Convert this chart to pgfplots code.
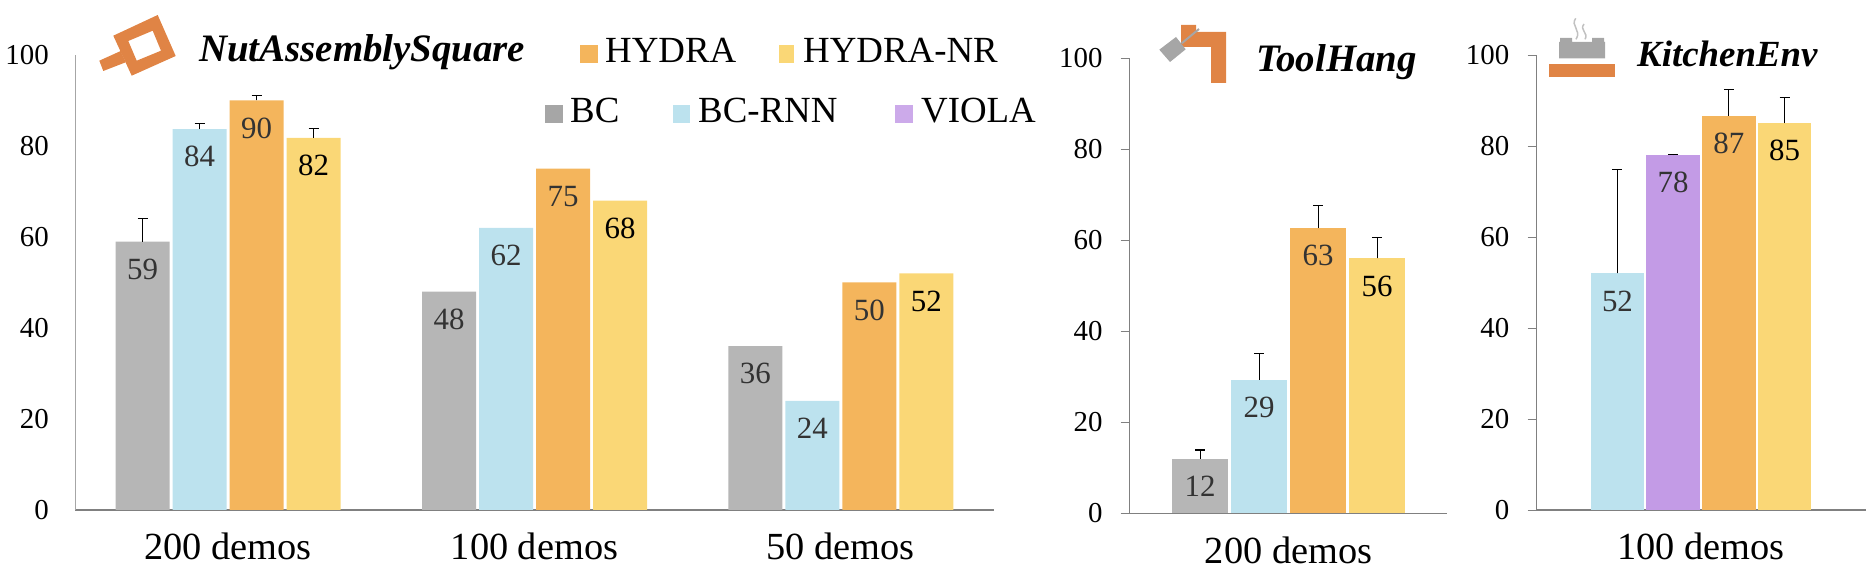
\documentclass[border=0pt]{standalone}
\usepackage{fontspec}
\setmainfont{Liberation Serif}
\usepackage{pgfplots}
\pgfplotsset{compat=1.18}

\definecolor{cBC}{HTML}{B6B6B6}
\definecolor{cRNN}{HTML}{BCE2EE}
\definecolor{cHYD}{HTML}{F4B55C}
\definecolor{cNR}{HTML}{FAD776}
\definecolor{cVIO}{HTML}{C39BE6}
\definecolor{cIcon}{HTML}{E08445}
\definecolor{cIconGray}{HTML}{A6A6A6}
\definecolor{cAxis}{HTML}{808080}

\newcommand{\fnt}[1]{\fontsize{#1}{#1}\selectfont}

\pgfplotsset{
  panel/.style={
    scale only axis,
    anchor=south west,
    height=455bp,
    ymin=0, ymax=100,
    ytick={0,20,40,60,80,100},
    clip=false,
    axis lines*=left,
    x axis line style={draw=cAxis, line width=1.5bp},
    y axis line style={draw=cAxis, line width=0.8bp},
    xtick=data,
    tick align=outside,
    major x tick style={draw=none},
    major y tick style={draw=cAxis, line width=0.8bp},
    /pgf/number format/assume math mode=true,
    yticklabel style={font=\fnt{29}, inner sep=0pt, text=black},
    xticklabel style={font=\fnt{38.5}, inner sep=0pt, anchor=base},
    nodes near coords,
    nodes near coords style={/pgf/number format/fixed, /pgf/number format/precision=0},
    every node near coord/.append style={font=\fnt{31}, anchor=north, yshift=-17bp, inner sep=0pt, text=black!80},
    error bars/y dir=plus,
    error bars/y explicit,
    error bars/error bar style={black, line width=1.1bp},
    error bars/error mark options={rotate=90, mark size=5bp, black, line width=1.1bp},
  },
  bc/.style={fill=cBC, draw=none},
  rnn/.style={fill=cRNN, draw=none},
  hyd/.style={fill=cHYD, draw=none},
  nr/.style={fill=cNR, draw=none, every node near coord/.append style={text=black}},
  vio/.style={fill=cVIO, draw=none},
}

\begin{document}
\begin{tikzpicture}[x=1bp, y=1bp]
\useasboundingbox (0,0) rectangle (1872,572);

% NutAssemblySquare
\begin{axis}[panel,
  at={(75bp,62bp)}, width=919bp,
  xmin=-0.5, xmax=2.5,
  xticklabels={200 demos,100 demos,50 demos},
  xticklabel style={yshift=-50bp},
  major y tick style={draw=none},
  major tick length=0pt,
  y axis line style={draw=cAxis!70, line width=0.8bp},
  yticklabel style={xshift=-26bp},
  ybar=3bp, bar width=54bp,
]
\addplot+[bc] coordinates {(0,59) +- (0,5) (1,48) (2,36)};
\addplot+[rnn] coordinates {(0,83.7) +- (0,1.3) (1,62) (2,24)};
\addplot+[hyd] coordinates {(0,90) +- (0,1) (1,75) (2,50)};
\addplot+[nr] coordinates {(0,81.8) +- (0,2.1) (1,68) (2,52)};
\end{axis}

% ToolHang
\begin{axis}[panel,
  at={(1129.7bp,58.7bp)}, width=317.7bp,
  xmin=-0.5, xmax=0.5,
  xticklabels={200 demos},
  xticklabel style={yshift=-41bp},
  major tick length=9bp,
  yticklabel style={xshift=-18bp},
  ybar=3bp, bar width=56bp,
]
\addplot+[bc] coordinates {(0,12) +- (0,1.9)};
\addplot+[rnn] coordinates {(0,29.3) +- (0,5.9)};
\addplot+[hyd] coordinates {(0,62.7) +- (0,5)};
\addplot+[nr] coordinates {(0,56) +- (0,4.6)};
\end{axis}

% KitchenEnv
\begin{axis}[panel,
  at={(1536.5bp,62bp)}, width=329bp,
  xmin=-0.5, xmax=0.5,
  xticklabels={100 demos},
  xticklabel style={yshift=-41bp},
  major tick length=9bp,
  yticklabel style={xshift=-18bp},
  ybar=2.2bp, bar width=53.5bp,
]
\addplot+[rnn] coordinates {(0,52) +- (0,22.8)};
\addplot+[vio] coordinates {(0,78) +- (0,0.2)};
\addplot+[hyd] coordinates {(0,86.7) +- (0,5.7)};
\addplot+[nr] coordinates {(0,85) +- (0,5.7)};
\end{axis}

% titles, legend and icons, in image pixels (y down)
\begin{scope}[shift={(0,572)}, y=-1bp]
\node[anchor=base west, inner sep=0pt, font=\fnt{39}\bfseries\itshape] at (199,62) {NutAssemblySquare};
\node[anchor=base west, inner sep=0pt, font=\fnt{39}\bfseries\itshape] at (1256,72) {ToolHang};
\node[anchor=base west, inner sep=0pt, font=\fnt{37}\bfseries\itshape] at (1637,67) {KitchenEnv};

\fill[cHYD] (580,45) rectangle (598,63);
\node[anchor=base west, inner sep=0pt, font=\fnt{37}] at (605,63) {HYDRA};
\fill[cNR] (779,45) rectangle (794,63);
\node[anchor=base west, inner sep=0pt, font=\fnt{37}] at (803,63) {HYDRA-NR};
\fill[cIconGray] (545,105) rectangle (563,123);
\node[anchor=base west, inner sep=0pt, font=\fnt{37}] at (570,123) {BC};
\fill[cRNN] (673,105) rectangle (690,123);
\node[anchor=base west, inner sep=0pt, font=\fnt{37}] at (698,123) {BC-RNN};
\fill[cVIO!85!white] (895,105) rectangle (913,123);
\node[anchor=base west, inner sep=0pt, font=\fnt{37}] at (921,123) {VIOLA};

% nut
\fill[cIcon] (99.3,60.7) -- (120.7,51) -- (125.7,62.3) -- (103.3,71) -- cycle;
\fill[cIcon, even odd rule] (113.3,35.7) -- (157.7,15) -- (175.7,56) -- (131.7,75.7) -- cycle
  (128.3,41) -- (152.7,30.7) -- (161,50.7) -- (136.7,60.7) -- cycle;
% hook and tool
\fill[cIcon] (1181,25) -- (1196,25) -- (1196,32) -- (1226,32) -- (1226,83) -- (1211,83) -- (1211,47) -- (1181,47) -- cycle;
\fill[cIconGray] (1159.3,49.7) -- (1176,37) -- (1185.7,49.3) -- (1170,62) -- cycle;
\draw[cIconGray, line width=2bp] (1181.7,43.3) -- (1199,29);
% pot on stove
\fill[cIconGray] (1560,38) -- (1572,38) -- (1572,42) -- (1592,42) -- (1592,38) -- (1604,38) -- (1604,42) -- (1605,42) -- (1605,58.3) -- (1559,58.3) -- (1559,42) -- (1560,42) -- cycle;
\fill[cIcon] (1549,64) rectangle (1615,77);
\draw[cIconGray!70, line width=1.5bp] (1575.7,18.3) .. controls (1570,26) and (1582,30) .. (1576,39.3);
\draw[cIconGray!70, line width=1.5bp] (1584,24) .. controls (1579,30) and (1589,33) .. (1585,39.3);
\end{scope}
\end{tikzpicture}
\end{document}
